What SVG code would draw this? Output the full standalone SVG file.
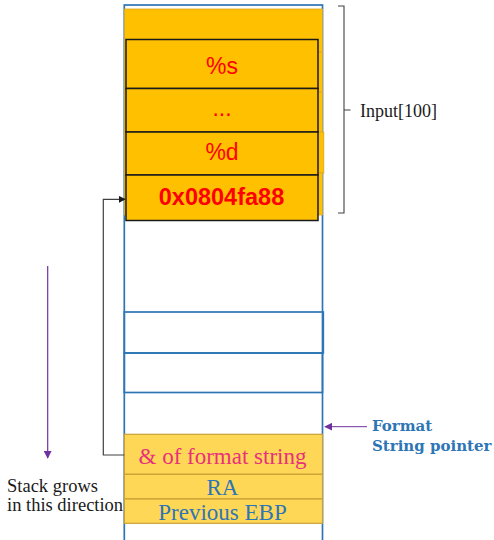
<svg xmlns="http://www.w3.org/2000/svg" width="494" height="540" viewBox="0 0 494 540">
<defs>
<style>
.blue{fill:none;stroke:#2E75B6;stroke-width:1.7}
.og{fill:#FFC000;stroke:#D9A82A;stroke-width:0.8}
.bx{fill:#FFC000;stroke:#1a1a1a;stroke-width:1.5}
.gold{fill:#FFD757;stroke:#C9A032;stroke-width:1.2}
.red{font-family:"Liberation Sans",Arial,sans-serif;font-size:23px;fill:#FF0000;text-anchor:middle}
.serif{font-family:"Liberation Serif","Times New Roman",serif}
</style>
<marker id="ah" viewBox="0 0 10 10" refX="9" refY="5" markerWidth="7" markerHeight="7" orient="auto" markerUnits="userSpaceOnUse"><path d="M0,0 L10,5 L0,10 z" fill="#1a1a1a"/></marker>
<marker id="ap" viewBox="0 0 10 10" refX="9" refY="5" markerWidth="8" markerHeight="8" orient="auto" markerUnits="userSpaceOnUse"><path d="M0,0 L10,5 L0,10 z" fill="#7030A0"/></marker>
</defs>
<rect width="494" height="540" fill="#ffffff"/>
<g id="stack">
<rect class="blue" x="124.3" y="5" width="198.2" height="545"/>
<rect class="blue" x="124.3" y="312" width="199" height="41"/>
<rect class="blue" x="124.3" y="353" width="198.2" height="39.5"/>
</g>
<g id="input-buffer">
<rect class="og" x="124.3" y="9" width="198.2" height="43"/>
<rect class="og" x="124.3" y="52" width="198.2" height="40"/>
<rect class="og" x="124.3" y="92" width="198.2" height="40"/>
<rect class="og" x="124.3" y="132" width="199.5" height="41"/>
<rect class="og" x="124.3" y="173" width="198.2" height="42"/>
</g>
<g id="node-s"><rect class="bx" x="126" y="39.5" width="192" height="49"/><text class="red" x="222" y="74">%s</text></g>
<g id="node-dots"><rect class="bx" x="126" y="88.5" width="192" height="43.5"/><text class="red" x="222" y="116">...</text></g>
<g id="node-d"><rect class="bx" x="126" y="132" width="192" height="43"/><text class="red" x="222" y="160">%d</text></g>
<g id="node-addr"><rect class="bx" x="126" y="175" width="192" height="45.5"/><text class="red" x="221.5" y="204.5" style="font-weight:bold;font-size:23.5px">0x0804fa88</text></g>
<g id="node-fmt"><rect class="gold" x="124.3" y="434.3" width="198.2" height="40"/><text class="serif" x="222.5" y="463.5" text-anchor="middle" font-size="23" fill="#E8307B">&amp; of format string</text></g>
<g id="node-ra"><rect class="gold" x="124.3" y="474.3" width="198.2" height="24.7"/><text class="serif" x="222.5" y="495" text-anchor="middle" font-size="23" fill="#2E75B6">RA</text></g>
<g id="node-ebp"><rect class="gold" x="124.3" y="499" width="198.2" height="24.3"/><text class="serif" x="222.5" y="519.5" text-anchor="middle" font-size="23" fill="#2E75B6">Previous EBP</text></g>
<g id="brace">
<path d="M338,6 H344 V213 H338 M344,110 H350.5" fill="none" stroke="#404040" stroke-width="1.1"/>
<text class="serif" x="360" y="117" font-size="18" fill="#1a1a1a">Input[100]</text>
</g>
<g id="labels">
<text font-family="'DejaVu Serif',Georgia,serif" font-weight="bold" font-size="15" fill="#2E75B6"><tspan x="372" y="431">Format</tspan><tspan x="372" y="450.5">String pointer</tspan></text>
<text class="serif" font-size="18.5" fill="#1a1a1a"><tspan x="7" y="492">Stack grows</tspan><tspan x="7" y="511">in this direction</tspan></text>
</g>
<g id="connectors">
<path d="M124.3,455 H103.3 V199.3 H125" fill="none" stroke="#404040" stroke-width="1.2" marker-end="url(#ah)"/>
<line x1="367" y1="426.7" x2="325" y2="426.7" stroke="#7030A0" stroke-width="1" marker-end="url(#ap)"/>
<line x1="47.7" y1="266" x2="47.7" y2="458" stroke="#7030A0" stroke-width="1.2" marker-end="url(#ap)"/>
</g>
</svg>
